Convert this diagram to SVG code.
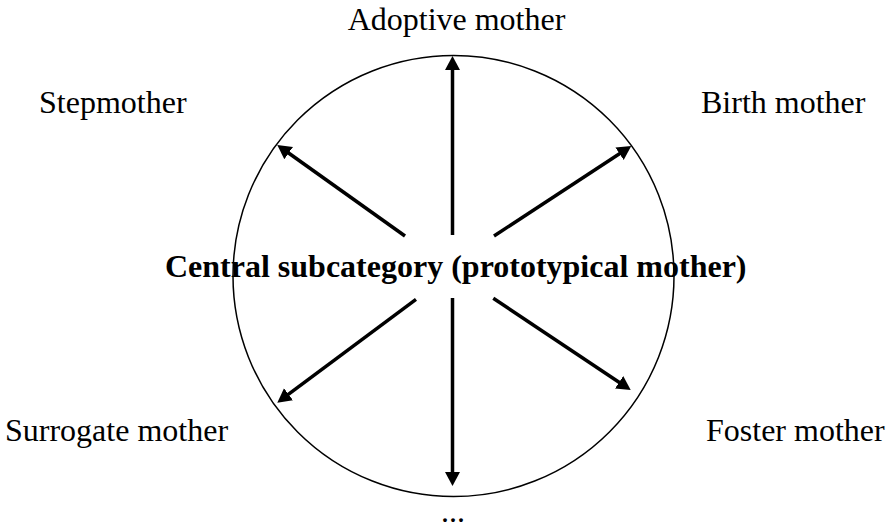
<svg xmlns="http://www.w3.org/2000/svg" width="890" height="528" viewBox="0 0 890 528">
<style>
.lbl{font-family:"Liberation Serif","Times New Roman",serif;font-size:32px;fill:#000}
.ctr{font-family:"Liberation Serif","Times New Roman",serif;font-size:32px;font-weight:bold;fill:#000}
.arr{stroke:#000;stroke-width:3.5;fill:none;marker-end:url(#ah)}
</style>
<defs>
<marker id="ah" markerUnits="userSpaceOnUse" markerWidth="16" markerHeight="16" refX="4" refY="7.5" orient="auto" viewBox="0 0 16 16">
<path d="M0,0 L14,7.5 L0,15 z" fill="#000"/>
</marker>
</defs>
<rect width="890" height="528" fill="#fff"/>
<g id="circle"><circle cx="453.5" cy="276" r="220.5" fill="none" stroke="#000" stroke-width="1.5"/></g>
<g id="connectors">
<line class="arr" x1="452.5" y1="235" x2="452.5" y2="66"/>
<line class="arr" x1="452.5" y1="298" x2="452.5" y2="476"/>
<line class="arr" x1="405" y1="236" x2="285.4" y2="150.8"/>
<line class="arr" x1="494" y1="236" x2="622.9" y2="151.5"/>
<line class="arr" x1="416" y1="299.3" x2="285.3" y2="396.7"/>
<line class="arr" x1="493.3" y1="298.3" x2="622.4" y2="384.5"/>
</g>
<g id="central"><text class="ctr" x="165" y="277">Central subcategory (prototypical mother)</text></g>
<g id="adoptive"><text class="lbl" x="456.5" y="30" text-anchor="middle">Adoptive mother</text></g>
<g id="step"><text class="lbl" x="39" y="113">Stepmother</text></g>
<g id="birth"><text class="lbl" x="701" y="113">Birth mother</text></g>
<g id="surrogate"><text class="lbl" x="5" y="441">Surrogate mother</text></g>
<g id="foster"><text class="lbl" x="706" y="441">Foster mother</text></g>
<g id="more"><text class="lbl" x="453" y="522" text-anchor="middle">...</text></g>
</svg>
